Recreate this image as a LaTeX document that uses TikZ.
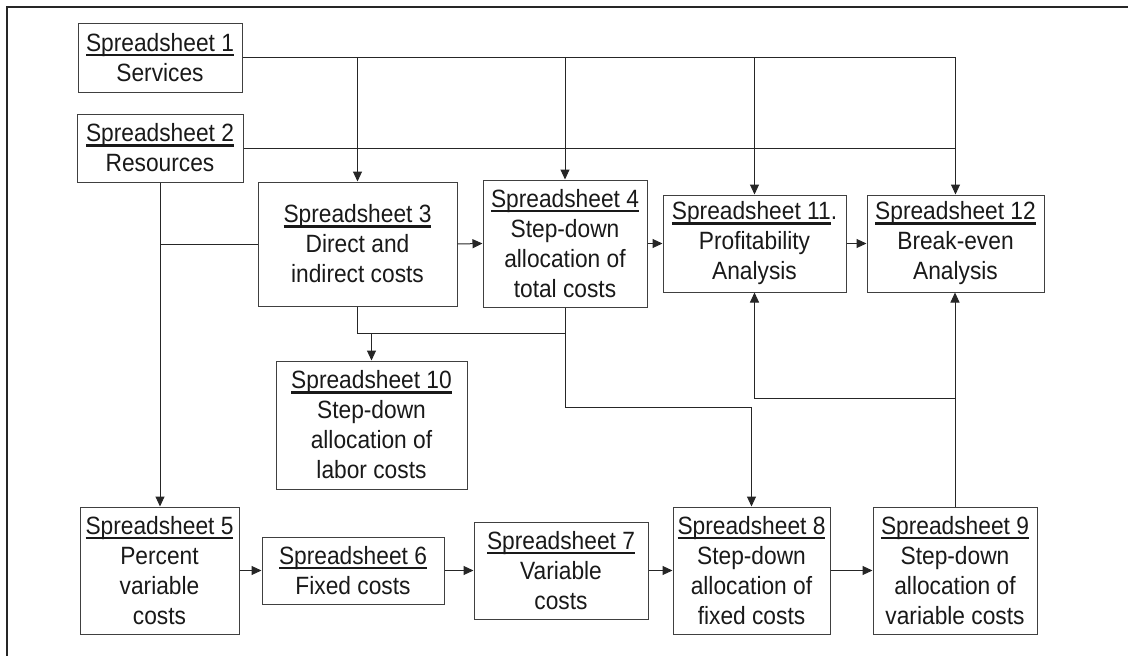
\documentclass[tikz,border=0pt]{standalone}
\usepackage{fontspec}
\setmainfont{Liberation Sans}[FakeStretch=0.91]
\usetikzlibrary{arrows.meta}
\newcommand\ssul[1]{\setbox0=\hbox{#1}\rlap{\rule[-5pt]{\wd0}{2.6pt}}\box0}
\begin{document}
\begin{tikzpicture}[x=1pt,y=-1pt,
  box/.style={draw=black!75, line width=1pt, inner sep=0pt, align=center,
    font=\fontsize{25}{30}\selectfont, text=black!90},
  conn/.style={line width=1pt, draw=black!85},
  arr/.style={conn, -{Triangle[length=10pt,width=9pt]}}]
\useasboundingbox (0,0) rectangle (1128,656);
\draw[line width=1.5pt, draw=black!85] (7,656) -- (7,7) -- (1128,7);

\node[box, minimum width=164pt, minimum height=69pt] (s1) at (160,57.5) {\ssul{Spreadsheet 1}\\Services};
\node[box, minimum width=166pt, minimum height=68pt] (s2) at (160,148) {\ssul{Spreadsheet 2}\\Resources};
\node[box, minimum width=199pt, minimum height=124pt] (s3) at (357.5,244) {\ssul{Spreadsheet 3}\\Direct and\\indirect costs};
\node[box, minimum width=164pt, minimum height=127pt] (s4) at (565,243.5) {\ssul{Spreadsheet 4}\\Step-down\\allocation of\\total costs};
\node[box, minimum width=183pt, minimum height=97pt] (s11) at (754.5,243.5) {\ssul{Spreadsheet 11}.\\Profitability\\Analysis};
\node[box, minimum width=177pt, minimum height=97pt] (s12) at (955.5,243.5) {\ssul{Spreadsheet 12}\\Break-even\\Analysis};
\node[box, minimum width=191pt, minimum height=128pt] (s10) at (371.5,425) {\ssul{Spreadsheet 10}\\Step-down\\allocation of\\labor costs};
\node[box, minimum width=159pt, minimum height=127pt] (s5) at (159.5,570.5) {\ssul{Spreadsheet 5}\\Percent\\variable\\costs};
\node[box, minimum width=182pt, minimum height=67pt] (s6) at (353,570.5) {\ssul{Spreadsheet 6}\\Fixed costs};
\node[box, minimum width=174pt, minimum height=97pt] (s7) at (561,570.5) {\ssul{Spreadsheet 7}\\Variable\\costs};
\node[box, minimum width=157pt, minimum height=127pt] (s8) at (751.5,570.5) {\ssul{Spreadsheet 8}\\Step-down\\allocation of\\fixed costs};
\node[box, minimum width=164pt, minimum height=127pt] (s9) at (955,570.5) {\ssul{Spreadsheet 9}\\Step-down\\allocation of\\variable costs};

% Spreadsheet 1 feeds
\draw[arr] (s1.east) -| (s12.north);
\draw[arr] (s1.east -| s3.north) -- (s3.north);
\draw[arr] (s1.east -| s4.north) -- (s4.north);
\draw[arr] (s1.east -| s11.north) -- (s11.north);
% Spreadsheet 2 feeds
\draw[conn] (s2.east) -- (s2.east -| s12.north);
\draw[arr] (s2.south) -- (s2.south |- s5.north);
\draw[conn] (s2.south |- s3.west) -- (s3.west);
% top row
\draw[arr] (s3.east) -- (s4.west);
\draw[arr] (s4.east) -- (s11.west);
\draw[arr] (s11.east) -- (s12.west);
% to spreadsheet 10 and 8
\draw[conn] (s3.south) -- ++(0,27) coordinate (j1) -| (s4.south);
\draw[arr] (j1 -| s10.north) -- (s10.north);
\draw[arr] (s4.south) -- ++(0,100) -| (s8.north);
% from spreadsheet 9 upward
\draw[arr] (s9.north) -- (s9.north |- s12.south);
\draw[arr] (s9.north) ++(0,-108) -| (s11.south);
% bottom row
\draw[arr] (s5.east) -- (s6.west);
\draw[arr] (s6.east) -- (s7.west);
\draw[arr] (s7.east) -- (s8.west);
\draw[arr] (s8.east) -- (s9.west);
\end{tikzpicture}
\end{document}
